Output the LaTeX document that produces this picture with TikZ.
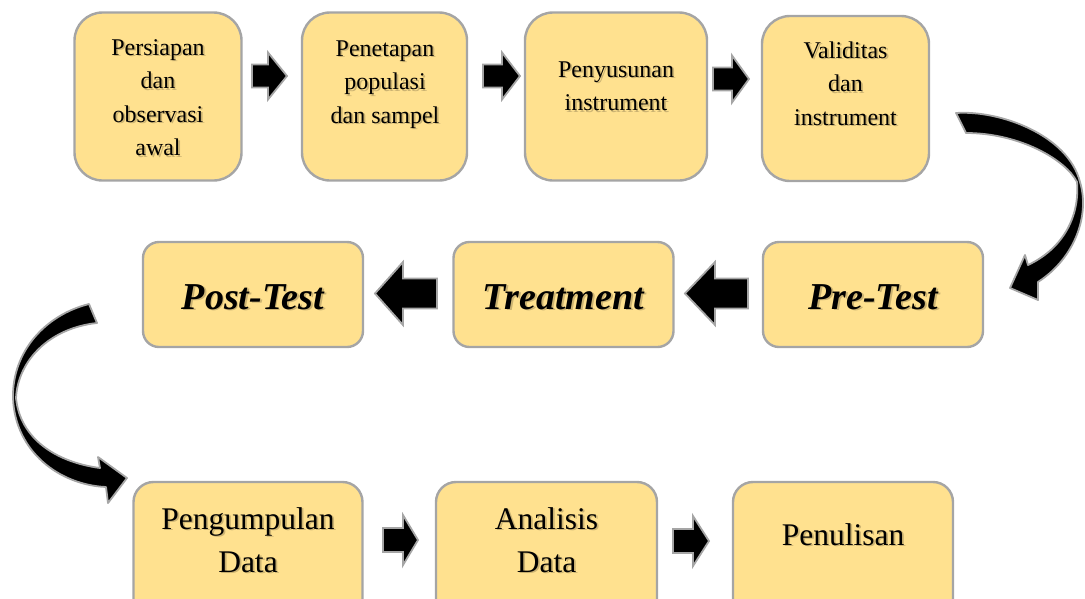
\documentclass[tikz,border=0pt]{standalone}
\usepackage{fontspec}
\setmainfont{Liberation Serif}
\usetikzlibrary{calc}
\definecolor{boxfill}{RGB}{255,225,143}
\definecolor{boxline}{RGB}{165,165,165}
\definecolor{shadowcol}{RGB}{110,95,60}
\newcommand\fone{\fontsize{24}{33.5}\selectfont}
\newcommand\ftwo{\fontsize{38}{44}\selectfont\bfseries\itshape}
\newcommand\fthree{\fontsize{31.5}{43}\selectfont}
\tikzset{
 stage/.style={draw=boxline, line width=2.4pt, fill=boxfill, rectangle, inner sep=0pt},
 rowone/.style={stage, rounded corners=28pt, minimum width=167pt, minimum height=168pt},
 rowtwo/.style={stage, rounded corners=16pt, minimum width=220pt, minimum height=105pt},
 rowthree/.style={stage, rounded corners=20pt, minimum width=229pt, minimum height=150pt},
 blockarrow/.style={fill=black, draw=boxline, line width=1.8pt, line join=miter},
 txt/.style={align=center, anchor=base, inner sep=0pt},
 shtxt/.style={txt, text=shadowcol, opacity=.35}
}
% #1 name, #2 x, #3 y (baseline of the last line), #4 font, #5 text
\newcommand\stxt[5]{%
 \node[shtxt, font=#4] at (#2+1.8,#3+1.8) {#5};
 \node[txt, font=#4] (#1) at (#2,#3) {#5};
}
% block arrow: #1 tail x, #2 head base x, #3 tip x, #4 y, #5 shaft half, #6 head half
\newcommand\blk[6]{%
 \draw[blockarrow] (#1,{#4-#5}) -- (#2,{#4-#5}) -- (#2,{#4-#6}) -- (#3,#4)
   -- (#2,{#4+#6}) -- (#2,{#4+#5}) -- (#1,{#4+#5}) -- cycle;
}
\begin{document}
\begin{tikzpicture}[x=1pt,y=-1pt]
\useasboundingbox (0,0) rectangle (1085,598);
\clip (0,0) rectangle (1085,598);

% row 1
\node[rowone] (b1) at (158,96.5) {};
\node[rowone, minimum width=165pt] (b2) at (384.5,96.5) {};
\node[rowone, minimum width=182pt] (b3) at (616,96.5) {};
\node[rowone, minimum height=165pt] (b4) at (845.5,98.5) {};
\stxt{t1}{158}{155.5}{\fone}{Persiapan\\dan\\observasi\\awal}
\stxt{t2}{385}{123}{\fone}{Penetapan\\populasi\\dan sampel}
\stxt{t3}{616}{110.5}{\fone}{Penyusunan\\instrument}
\stxt{t4}{845.5}{125}{\fone}{Validitas\\dan\\instrument}
\blk{252}{268}{287}{76}{11.5}{23.5}
\blk{483}{502}{520}{76}{11.5}{23.5}
\blk{713}{732}{749}{79}{11.5}{23.5}

% row 2
\node[rowtwo] (post) at (253,294.5) {};
\node[rowtwo] (treat) at (563.5,294.5) {};
\node[rowtwo] (pre) at (873,294.5) {};
\stxt{tpost}{253}{309}{\ftwo}{Post-Test}
\stxt{ttreat}{563.5}{309}{\ftwo}{Treatment}
\stxt{tpre}{873}{309}{\ftwo}{Pre-Test}
\blk{437}{403}{375}{293.5}{15}{31.5}
\blk{748}{715}{685}{293.5}{15}{31.5}

% row 3
\node[rowthree] (peng) at (248,557) {};
\node[rowthree, minimum width=221pt] (anal) at (546.5,557) {};
\node[rowthree, minimum width=220pt] (penu) at (843,557) {};
\stxt{tpeng}{248}{572}{\fthree}{Pengumpulan\\Data}
\stxt{tanal}{546.5}{572}{\fthree}{Analisis\\Data}
\stxt{tpenu}{843}{545}{\fthree}{Penulisan}
\blk{383}{403}{418}{540}{12}{25}
\blk{673}{693}{709}{541}{12}{25}

% curved arrow right (Validitas -> Pre-Test)
\draw[blockarrow, line join=round]
 (956,113) .. controls (1000,110) and (1068,135) .. (1080,182)
 .. controls (1090,215) and (1075,258) .. (1038,282)
 -- (1038,300) -- (1010,288) -- (1025,255) -- (1028,265)
 .. controls (1060,250) and (1080,220) .. (1077,182)
 .. controls (1066,160) and (1020,133) .. (966,133) -- cycle;

% curved arrow left (Post-Test -> Pengumpulan Data)
\draw[blockarrow, line join=round]
 (89,304) .. controls (45,315) and (12,352) .. (13,398)
 .. controls (15,452) and (60,485) .. (106,487)
 -- (108,503) -- (127,478) -- (98,457) -- (100,468)
 .. controls (55,462) and (20,438) .. (16,398)
 .. controls (18,360) and (50,328) .. (97,323) -- cycle;
\end{tikzpicture}
\end{document}
